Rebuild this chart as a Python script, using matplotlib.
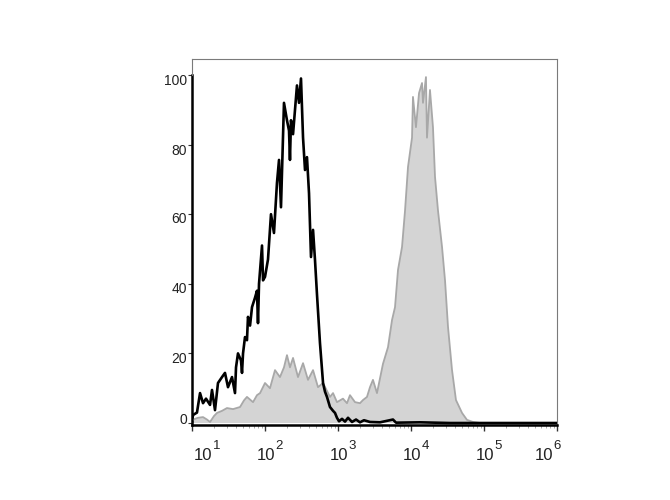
import numpy as np
import matplotlib
matplotlib.use("Agg")
import matplotlib.pyplot as plt
import matplotlib.transforms as mtransforms
from matplotlib.ticker import FixedLocator, NullFormatter

plt.rcParams['font.family'] = ['Liberation Sans', 'DejaVu Sans']

# ---- data (x as log10 of fluorescence intensity, y as % of max) ----
black_logx = [1.000, 1.014, 1.068, 1.110, 1.151, 1.192, 1.247, 1.274, 1.315, 1.356, 1.411,
              1.452, 1.493, 1.548, 1.589, 1.603, 1.630, 1.671, 1.685, 1.699, 1.726,
              1.753, 1.767, 1.795, 1.822, 1.863, 1.890, 1.904, 1.918, 1.959, 1.973,
              2.000, 2.041, 2.082, 2.123, 2.164, 2.192, 2.219, 2.260, 2.301, 2.329,
              2.342, 2.356, 2.384, 2.438, 2.466, 2.493, 2.521, 2.548, 2.575, 2.603,
              2.630, 2.658, 2.685, 2.712, 2.753, 2.795, 2.822, 2.849, 2.890, 2.932,
              2.959, 2.986, 3.014, 3.055, 3.096, 3.137, 3.192, 3.247, 3.301, 3.356,
              3.438, 3.575, 3.753, 3.795, 4.123, 4.534, 6.000]
black_pct = [0.5, 2.3, 3.0, 8.6, 5.7, 7.0, 5.2, 9.5, 3.7, 11.5, 13.2,
             14.4, 10.3, 13.2, 8.6, 16.0, 20.0, 18.0, 14.4, 20.0, 24.7,
             23.8, 30.5, 28.0, 33.3, 36.0, 38.0, 28.7, 40.0, 51.0, 41.0,
             42.0, 47.0, 60.0, 54.6, 69.0, 75.6, 62.0, 92.0, 87.0, 84.0,
             75.6, 87.0, 83.0, 97.0, 92.0, 99.0, 82.0, 72.7, 76.4, 66.0,
             47.7, 55.5, 46.8, 37.0, 23.0, 11.5, 9.0, 7.5, 4.6, 3.5,
             2.9, 1.5, 0.5, 1.2, 0.4, 1.5, 0.3, 1.0, 0.2, 0.8,
             0.3, 0.2, 1.0, 0.1, 0.2, 0.0, 0.0]

grey_logx = [1.000, 1.014, 1.082, 1.151, 1.205, 1.247, 1.301, 1.342, 1.411, 1.479, 1.562,
             1.658, 1.712, 1.753, 1.836, 1.890, 1.932, 2.000, 2.068, 2.137, 2.205,
             2.260, 2.301, 2.342, 2.384, 2.452, 2.521, 2.589, 2.658, 2.726, 2.795,
             2.890, 2.932, 2.986, 3.068, 3.123, 3.164, 3.233, 3.301, 3.342, 3.397,
             3.438, 3.479, 3.534, 3.616, 3.685, 3.740, 3.781, 3.822, 3.877, 3.918,
             3.959, 4.014, 4.027, 4.068, 4.110, 4.151, 4.164, 4.205, 4.219, 4.260,
             4.301, 4.329, 4.370, 4.425, 4.466, 4.507, 4.562, 4.616, 4.699, 4.767,
             4.849, 4.945, 6.000]
grey_pct = [0.5, 1.0, 1.5, 1.7, 1.0, 0.3, 2.0, 2.9, 3.5, 4.3, 4.0,
            4.6, 6.5, 7.5, 6.0, 8.0, 8.6, 11.5, 10.0, 15.2, 13.2,
            16.0, 19.5, 16.0, 18.7, 13.2, 17.2, 12.4, 15.2, 10.3, 11.5,
            7.5, 8.6, 6.0, 7.0, 5.7, 8.0, 6.0, 5.7, 6.6, 7.5,
            10.3, 12.4, 8.6, 17.0, 21.8, 29.6, 33.3, 44.0, 50.6, 61.0,
            73.6, 82.0, 93.7, 85.0, 94.8, 97.7, 92.0, 99.4, 82.0, 95.7,
            85.0, 70.7, 61.0, 50.6, 41.0, 27.6, 15.2, 6.6, 2.9, 0.9,
            0.3, 0.0, 0.0]

x_decades = [1, 2, 3, 4, 5, 6]
x_tick_base = ['10', '10', '10', '10', '10', '10']
x_tick_exp = ['1', '2', '3', '4', '5', '6']
y_ticks = [0, 20, 40, 60, 80, 100]
y_tick_labels = ['0', '20', '40', '60', '80', '100']

# ---- figure ----
fig = plt.figure(figsize=(6.7, 5.0), dpi=100)
ax = fig.add_axes([192 / 670, 75 / 500, 365 / 670, 366 / 500])

bx = 10.0 ** np.array(black_logx)
gx = 10.0 ** np.array(grey_logx)

ax.fill_between(gx, 0, grey_pct, facecolor='#d4d4d4', edgecolor='none', zorder=2)
ax.plot(gx, grey_pct, color='#a8a8a8', lw=1.3, zorder=3)
ax.plot(bx, black_pct, color='black', lw=1.9, zorder=4)

ax.set_xscale('log')
ax.set_xlim(10, 1e6)
ax.set_ylim(-0.57, 104.6)

# spines
for s in ['top', 'right']:
    ax.spines[s].set_color('#7a7a7a')
    ax.spines[s].set_linewidth(0.8)
ax.spines['bottom'].set_color('black')
ax.spines['bottom'].set_linewidth(1.8)
ax.spines['left'].set_color('black')
ax.spines['left'].set_linewidth(1.8)
ax.spines['left'].set_bounds(-0.57, 100)
ax.plot([0, 0], [(100 + 0.57) / (104.6 + 0.57), 1], transform=ax.transAxes,
        color='#7a7a7a', lw=0.8, clip_on=False, zorder=5)

# x ticks
ax.xaxis.set_major_locator(FixedLocator([10.0 ** d for d in x_decades]))
ax.xaxis.set_major_formatter(NullFormatter())
minors = [m * 10.0 ** d for d in x_decades[:-1] for m in range(2, 10)]
ax.xaxis.set_minor_locator(FixedLocator(minors))
ax.xaxis.set_minor_formatter(NullFormatter())
ax.tick_params(axis='x', which='major', direction='out', length=4, width=1, color='#333333')
ax.tick_params(axis='x', which='minor', direction='out', length=2, width=0.6, color='#999999')

base_centers = [1.151, 2.014, 3.014, 4.014, 5.014, 5.822]
base_tr = mtransforms.offset_copy(ax.get_xaxis_transform(), fig=fig, x=0, y=-35, units='dots')
exp_tr = mtransforms.offset_copy(ax.get_xaxis_transform(), fig=fig, x=9.5, y=-24, units='dots')
for c, b, e in zip(base_centers, x_tick_base, x_tick_exp):
    ax.text(10.0 ** c, 0, b, transform=base_tr, ha='center', va='baseline',
            fontsize=12, color='#222222')
    ax.text(10.0 ** c, 0, e, transform=exp_tr, ha='left', va='baseline',
            fontsize=9.5, color='#222222')

# y ticks
ax.set_yticks(y_ticks)
ax.set_yticklabels([])
ax.tick_params(axis='y', direction='out', length=3, width=0.8, color='#333333')
yoffsets = [3, -6, -5, -5, -6, -6]
for v, lab, dy in zip(y_ticks, y_tick_labels, yoffsets):
    tr = mtransforms.offset_copy(ax.get_yaxis_transform(), fig=fig, x=-5, y=dy, units='dots')
    ax.text(0, v, lab, transform=tr, ha='right', va='center', fontsize=10, color='#222222')

fig.savefig('out.png', dpi=100)
